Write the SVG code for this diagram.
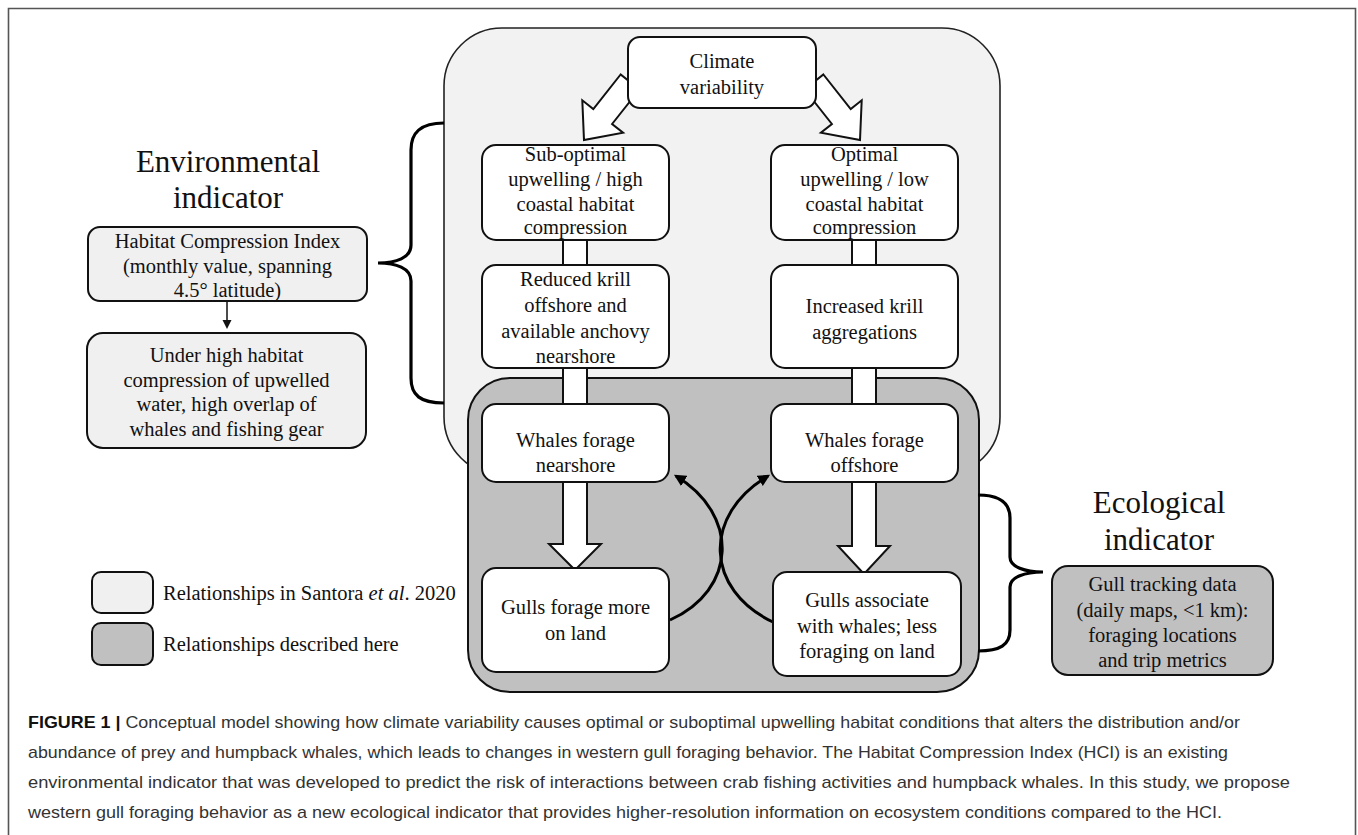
<svg xmlns="http://www.w3.org/2000/svg" width="1358" height="835" viewBox="0 0 1358 835">
<defs>
<style>
.t{font-family:"Liberation Serif","Times New Roman",serif;font-size:20.5px;fill:#111;text-anchor:middle}
.big{font-family:"Liberation Serif","Times New Roman",serif;font-size:31px;fill:#111;text-anchor:middle}
.leg{font-family:"Liberation Serif","Times New Roman",serif;font-size:20.5px;fill:#111}
.cap{font-family:"Liberation Sans",Arial,sans-serif;font-size:17px;fill:#333}
.node{fill:#fff;stroke:#111;stroke-width:2}
.lightn{fill:#f0f0f0;stroke:#111;stroke-width:2}
.darkn{fill:#c0c0c0;stroke:#111;stroke-width:2}
.stem{fill:#fff;stroke:#111;stroke-width:2}
.brace{fill:none;stroke:#000;stroke-width:3.2}
.curve{fill:none;stroke:#000;stroke-width:3}
</style>
<marker id="ah" viewBox="0 0 10 10" refX="8" refY="5" markerWidth="4" markerHeight="4" orient="auto" markerUnits="strokeWidth">
<path d="M0,0 L10,5 L0,10 z" fill="#000"/>
</marker>
</defs>
<rect width="1358" height="835" fill="#fff"/>
<path d="M8.5,835 L8.5,8.5 L1355.5,8.5 L1355.5,835" fill="none" stroke="#555" stroke-width="1.6"/>

<g id="bg-light">
<rect x="444" y="28" width="556" height="447" rx="58" fill="#f2f2f2" stroke="#222" stroke-width="1.6"/>
</g>
<g id="bg-dark">
<rect x="468" y="378" width="511" height="314" rx="42" fill="#c0c0c0" stroke="#111" stroke-width="2"/>
</g>

<g id="connectors">
<polygon class="stem" points="620.6,74.5 593.3,109 582.3,100.3 584,140 623.1,132.7 612.1,124 639.4,89.5"/>
<polygon class="stem" points="823.4,74.5 850.7,109 861.7,100.3 860,140 820.9,132.7 831.9,124 804.6,89.5"/>
<rect class="stem" x="563" y="240" width="24" height="25"/>
<rect class="stem" x="852" y="240" width="24" height="25"/>
<rect class="stem" x="563" y="368" width="24" height="36"/>
<rect class="stem" x="852" y="368" width="24" height="36"/>
<polygon class="stem" points="563,482 587,482 587,544 601,544 575,570 549,544 563,544"/>
<polygon class="stem" points="852,482 876,482 876,546 890,546 864,574 838,546 852,546"/>
<path class="curve" d="M670,620 C737,590 740,515 676,476" marker-end="url(#ah)"/>
<path class="curve" d="M773,622 C705,590 702,515 768,476" marker-end="url(#ah)"/>
<path class="brace" d="M444,123 C420,123 411,133 411,150 L411,245 C411,258 396,263 378,263 C396,263 411,268 411,281 L411,378 C411,395 420,403 444,403"/>
<path class="brace" d="M978,495 C1000,495 1010,503 1010,518 L1010,557 C1010,567 1025,572 1043,572 C1025,572 1010,577 1010,587 L1010,630 C1010,645 1000,651 978,651"/>
<line x1="227" y1="301" x2="227" y2="321" stroke="#111" stroke-width="1.5"/>
<polygon points="222.5,320 231.5,320 227,329" fill="#111"/>
</g>

<g id="climate">
<rect class="node" x="628" y="37" width="188" height="71" rx="12"/>
<text class="t" x="722" y="68">Climate</text>
<text class="t" x="722" y="94">variability</text>
</g>
<g id="suboptimal">
<rect class="node" x="482" y="145" width="187" height="95" rx="14"/>
<text class="t" x="575.5" y="161">Sub-optimal</text>
<text class="t" x="575.5" y="186">upwelling / high</text>
<text class="t" x="575.5" y="211">coastal habitat</text>
<text class="t" x="575.5" y="234">compression</text>
</g>
<g id="optimal">
<rect class="node" x="771" y="145" width="187" height="95" rx="14"/>
<text class="t" x="864.5" y="161">Optimal</text>
<text class="t" x="864.5" y="186">upwelling / low</text>
<text class="t" x="864.5" y="211">coastal habitat</text>
<text class="t" x="864.5" y="234">compression</text>
</g>
<g id="reduced-krill">
<rect class="node" x="482" y="265" width="187" height="103" rx="14"/>
<text class="t" x="575.5" y="286">Reduced krill</text>
<text class="t" x="575.5" y="312">offshore and</text>
<text class="t" x="575.5" y="338">available anchovy</text>
<text class="t" x="575.5" y="363">nearshore</text>
</g>
<g id="increased-krill">
<rect class="node" x="771" y="265" width="187" height="103" rx="14"/>
<text class="t" x="864.5" y="313">Increased krill</text>
<text class="t" x="864.5" y="339">aggregations</text>
</g>
<g id="whales-nearshore">
<rect class="node" x="482" y="404" width="187" height="78" rx="14"/>
<text class="t" x="575.5" y="447">Whales forage</text>
<text class="t" x="575.5" y="472">nearshore</text>
</g>
<g id="whales-offshore">
<rect class="node" x="771" y="404" width="187" height="78" rx="14"/>
<text class="t" x="864.5" y="447">Whales forage</text>
<text class="t" x="864.5" y="472">offshore</text>
</g>
<g id="gulls-land">
<rect class="node" x="482" y="568" width="187" height="104" rx="14"/>
<text class="t" x="575.5" y="614">Gulls forage more</text>
<text class="t" x="575.5" y="640">on land</text>
</g>
<g id="gulls-whales">
<rect class="node" x="773" y="572" width="188" height="104" rx="14"/>
<text class="t" x="867" y="607">Gulls associate</text>
<text class="t" x="867" y="633">with whales; less</text>
<text class="t" x="867" y="658">foraging on land</text>
</g>

<g id="env-indicator">
<text class="big" x="228" y="172">Environmental</text>
<text class="big" x="228" y="208">indicator</text>
</g>
<g id="hci">
<rect class="lightn" x="88" y="227" width="279" height="74" rx="12"/>
<text class="t" x="227.5" y="248">Habitat Compression Index</text>
<text class="t" x="227.5" y="273">(monthly value, spanning</text>
<text class="t" x="227.5" y="297">4.5° latitude)</text>
</g>
<g id="hci-overlap">
<rect class="lightn" x="87" y="333" width="279" height="115" rx="16"/>
<text class="t" x="226.5" y="362">Under high habitat</text>
<text class="t" x="226.5" y="387">compression of upwelled</text>
<text class="t" x="226.5" y="411">water, high overlap of</text>
<text class="t" x="226.5" y="436">whales and fishing gear</text>
</g>

<g id="eco-indicator">
<text class="big" x="1159" y="513">Ecological</text>
<text class="big" x="1159" y="550">indicator</text>
</g>
<g id="gull-tracking">
<rect class="darkn" x="1052" y="566" width="221" height="109" rx="16"/>
<text class="t" x="1162.5" y="591">Gull tracking data</text>
<text class="t" x="1162.5" y="617">(daily maps, &lt;1 km):</text>
<text class="t" x="1162.5" y="642">foraging locations</text>
<text class="t" x="1162.5" y="667">and trip metrics</text>
</g>

<g id="legend">
<rect class="lightn" x="92" y="572" width="61" height="41" rx="9"/>
<text class="leg" x="163" y="600">Relationships in Santora <tspan font-style="italic">et al</tspan>. 2020</text>
<rect class="darkn" x="92" y="623" width="61" height="42" rx="9"/>
<text class="leg" x="163" y="651">Relationships described here</text>
</g>

<g id="caption">
<text class="cap" x="28" y="728" textLength="1212" lengthAdjust="spacingAndGlyphs"><tspan font-weight="bold" fill="#111">FIGURE 1 |</tspan> Conceptual model showing how climate variability causes optimal or suboptimal upwelling habitat conditions that alters the distribution and/or</text>
<text class="cap" x="28" y="758" textLength="1200" lengthAdjust="spacingAndGlyphs">abundance of prey and humpback whales, which leads to changes in western gull foraging behavior. The Habitat Compression Index (HCI) is an existing</text>
<text class="cap" x="28" y="788" textLength="1262" lengthAdjust="spacingAndGlyphs">environmental indicator that was developed to predict the risk of interactions between crab fishing activities and humpback whales. In this study, we propose</text>
<text class="cap" x="28" y="818" textLength="1194" lengthAdjust="spacingAndGlyphs">western gull foraging behavior as a new ecological indicator that provides higher-resolution information on ecosystem conditions compared to the HCI.</text>
</g>
</svg>
